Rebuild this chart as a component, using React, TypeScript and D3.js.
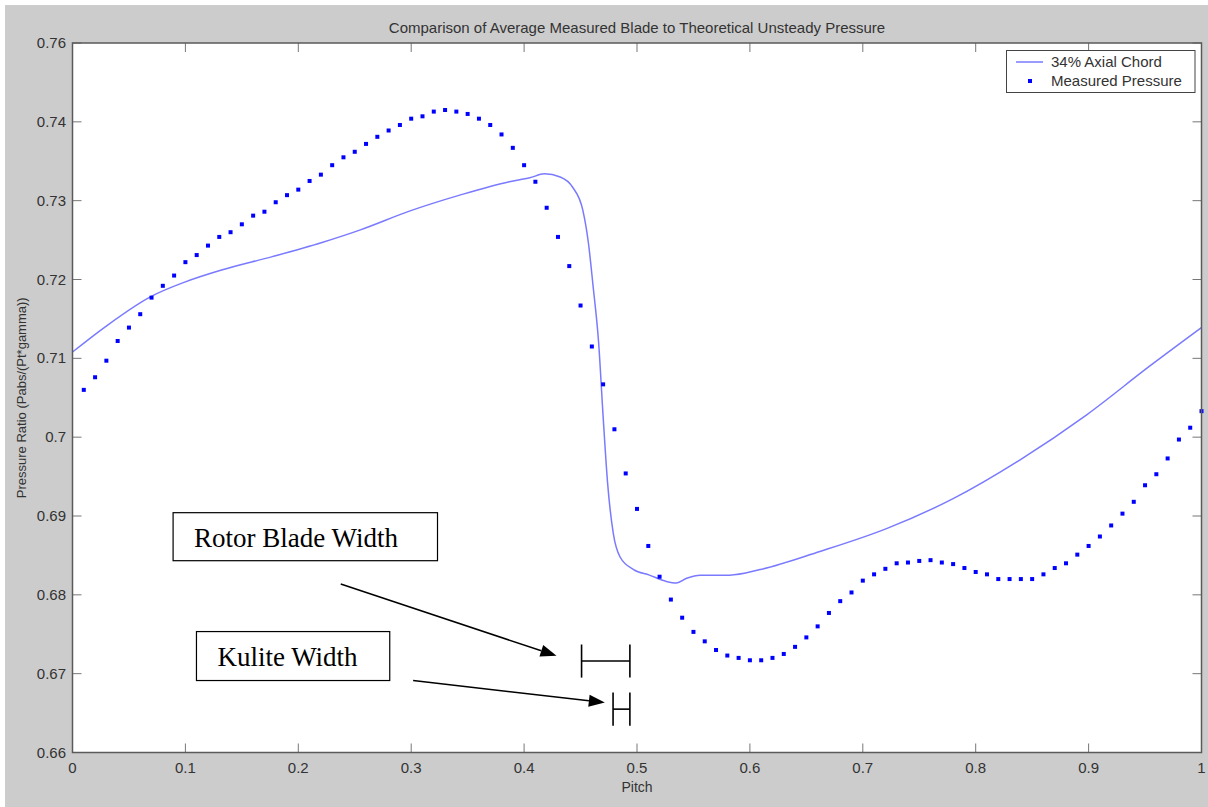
import React from "react";
import * as d3 from "d3";

const TITLE = "Comparison of Average Measured Blade to Theoretical Unsteady Pressure";
const X_LABEL = "Pitch";
const Y_LABEL = "Pressure Ratio (Pabs/(Pt*gamma))";

const xTickValues = [0, 0.1, 0.2, 0.3, 0.4, 0.5, 0.6, 0.7, 0.8, 0.9, 1];
const xTickLabels = ["0", "0.1", "0.2", "0.3", "0.4", "0.5", "0.6", "0.7", "0.8", "0.9", "1"];
const yTickValues = [0.66, 0.67, 0.68, 0.69, 0.7, 0.71, 0.72, 0.73, 0.74, 0.75];
const yTickLabels = ["0.66", "0.67", "0.68", "0.69", "0.7", "0.71", "0.72", "0.73", "0.74", "0.76"];

const measuredPitch = [
  0.01, 0.02, 0.03, 0.04, 0.05, 0.06, 0.07, 0.08, 0.09, 0.1,
  0.11, 0.12, 0.13, 0.14, 0.15, 0.16, 0.17, 0.18, 0.19, 0.2,
  0.21, 0.22, 0.23, 0.24, 0.25, 0.26, 0.27, 0.28, 0.29, 0.3,
  0.31, 0.32, 0.33, 0.34, 0.35, 0.36, 0.37, 0.38, 0.39, 0.4,
  0.41, 0.42, 0.43, 0.44, 0.45, 0.46, 0.47, 0.48, 0.49, 0.5,
  0.51, 0.52, 0.53, 0.54, 0.55, 0.56, 0.57, 0.58, 0.59, 0.6,
  0.61, 0.62, 0.63, 0.64, 0.65, 0.66, 0.67, 0.68, 0.69, 0.7,
  0.71, 0.72, 0.73, 0.74, 0.75, 0.76, 0.77, 0.78, 0.79, 0.8,
  0.81, 0.82, 0.83, 0.84, 0.85, 0.86, 0.87, 0.88, 0.89, 0.9,
  0.91, 0.92, 0.93, 0.94, 0.95, 0.96, 0.97, 0.98, 0.99, 1.0,
];
const measuredPressure = [
  0.7060, 0.7076, 0.7097, 0.7122, 0.7139, 0.7156, 0.7177, 0.7192, 0.7205, 0.7222,
  0.7231, 0.7243, 0.7254, 0.7260, 0.7270, 0.7281, 0.7286, 0.7298, 0.7307, 0.7314,
  0.7325, 0.7333, 0.7345, 0.7355, 0.7362, 0.7372, 0.7381, 0.7389, 0.7396, 0.7404,
  0.7407, 0.7413, 0.7415, 0.7413, 0.7410, 0.7404, 0.7396, 0.7384, 0.7367, 0.7345,
  0.7324, 0.7291, 0.7254, 0.7217, 0.7167, 0.7115, 0.7067, 0.7010, 0.6954, 0.6909,
  0.6862, 0.6823, 0.6794, 0.6771, 0.6753, 0.6741, 0.6730, 0.6723, 0.6720, 0.6717,
  0.6717, 0.6720, 0.6725, 0.6734, 0.6746, 0.6760, 0.6777, 0.6792, 0.6803, 0.6818,
  0.6826, 0.6833, 0.6840, 0.6841, 0.6843, 0.6844, 0.6841, 0.6839, 0.6834, 0.6829,
  0.6826, 0.6820, 0.6820, 0.6820, 0.6820, 0.6826, 0.6834, 0.6840, 0.6851, 0.6862,
  0.6874, 0.6888, 0.6903, 0.6918, 0.6939, 0.6953, 0.6973, 0.6997, 0.7012, 0.7033,
];

const chordPitch = [
  0, 0.029, 0.069, 0.1, 0.132, 0.177, 0.221, 0.255, 0.299, 0.343,
  0.387, 0.405, 0.418, 0.432, 0.443, 0.452, 0.457, 0.461, 0.466, 0.47,
  0.474, 0.479, 0.485, 0.497, 0.511, 0.526, 0.535, 0.544, 0.556, 0.582,
  0.609, 0.662, 0.721, 0.78, 0.839, 0.898, 0.954, 1.0,
];
const chordPressure = [
  0.7108, 0.7140, 0.7178, 0.7197, 0.7212, 0.7229, 0.7247, 0.7263, 0.7287, 0.7307,
  0.7324, 0.7329, 0.7334, 0.7330, 0.7317, 0.7288, 0.7246, 0.7193, 0.7120, 0.7026,
  0.6941, 0.6878, 0.6848, 0.6832, 0.6825, 0.6817, 0.6815, 0.6821, 0.6825, 0.6825,
  0.6832, 0.6855, 0.6884, 0.6922, 0.6971, 0.7028, 0.7090, 0.7139,
];

const legendLabels = ["34% Axial Chord", "Measured Pressure"];

// annotations in data units [pitch, pressure]
const rotorBox = { x0: 0.0891, x1: 0.3233, y0: 0.69042, y1: 0.68433, label: "Rotor Blade Width" };
const kuliteBox = { x0: 0.1098, x1: 0.281, y0: 0.67534, y1: 0.66913, label: "Kulite Width" };
const rotorArrow = { x0: 0.2376, y0: 0.68138, x1: 0.4287, y1: 0.67226 };
const kuliteArrow = { x0: 0.3017, y0: 0.66913, x1: 0.4715, y1: 0.66634 };
const rotorBracket = { x0: 0.4509, x1: 0.4937, y: 0.6716, h: 0.0021 };
const kuliteBracket = { x0: 0.4788, x1: 0.4937, y: 0.6655, h: 0.0021 };

const W = 1208;
const H = 807;
const L = 72.5, R = 1201.5, T = 43, B = 752.5;

export default function App() {
  const x = d3.scaleLinear().domain([0, 1]).range([L, R]);
  const y = d3.scaleLinear().domain([0.66, 0.75]).range([B, T]);

  const chordData = chordPitch.map((p, i) => [p, chordPressure[i]] as [number, number]);
  const linePath = d3
    .line<[number, number]>()
    .x((d) => x(d[0]))
    .y((d) => y(d[1]))
    .curve(d3.curveMonotoneX)(chordData) as string;

  const font = "'Liberation Sans', Arial, sans-serif";
  const tickLen = 9;
  const axisColor = "#5a5a5a";
  const tickColor = "#777";
  const textColor = "#333";
  const lineColor = "#7a7aff";
  const dotColor = "#0000ff";

  const arrow = (a: { x0: number; y0: number; x1: number; y1: number }, key: string) => {
    const X0 = x(a.x0), Y0 = y(a.y0), X1 = x(a.x1), Y1 = y(a.y1);
    const ang = Math.atan2(Y1 - Y0, X1 - X0);
    const len = 16, half = 6;
    const bx = X1 - len * Math.cos(ang), by = Y1 - len * Math.sin(ang);
    const px = -Math.sin(ang) * half, py = Math.cos(ang) * half;
    return (
      <g key={key}>
        <line x1={X0} y1={Y0} x2={bx} y2={by} stroke="#000" strokeWidth={1.5} />
        <polygon points={`${X1},${Y1} ${bx + px},${by + py} ${bx - px},${by - py}`} fill="#000" />
      </g>
    );
  };

  const bracket = (b: { x0: number; x1: number; y: number; h: number }, key: string) => (
    <g key={key} stroke="#000" strokeWidth={1.6}>
      <line x1={x(b.x0)} x2={x(b.x1)} y1={y(b.y)} y2={y(b.y)} />
      <line x1={x(b.x0)} x2={x(b.x0)} y1={y(b.y + b.h)} y2={y(b.y - b.h)} />
      <line x1={x(b.x1)} x2={x(b.x1)} y1={y(b.y + b.h)} y2={y(b.y - b.h)} />
    </g>
  );

  const box = (bx: { x0: number; x1: number; y0: number; y1: number; label: string }, key: string) => (
    <g key={key}>
      <rect
        x={x(bx.x0)}
        y={y(bx.y0)}
        width={x(bx.x1) - x(bx.x0)}
        height={y(bx.y1) - y(bx.y0)}
        fill="#fff"
        stroke="#000"
        strokeWidth={1.2}
      />
      <text
        x={x(bx.x0) + 21}
        y={(y(bx.y0) + y(bx.y1)) / 2 + 10}
        fontFamily="'Liberation Serif', 'Times New Roman', serif"
        fontSize={27}
        fill="#000"
      >
        {bx.label}
      </text>
    </g>
  );

  return (
    <svg
      width={W}
      height={H}
      style={{ position: "absolute", left: 0, top: 0, display: "block" }}
    >
      <rect x={0} y={0} width={W} height={H} fill="#fff" />
      <rect x={5} y={5} width={W - 5} height={H - 5} fill="#cccccc" />
      <rect x={L} y={T} width={R - L} height={B - T} fill="#fff" />

      {/* title & labels */}
      <text x={(L + R) / 2} y={33} textAnchor="middle" fontFamily={font} fontSize={15} fill={textColor}>
        {TITLE}
      </text>
      <text x={(L + R) / 2} y={792} textAnchor="middle" fontFamily={font} fontSize={14} fill={textColor}>
        {X_LABEL}
      </text>
      <text
        transform={`translate(26,${(T + B) / 2}) rotate(-90)`}
        textAnchor="middle"
        fontFamily={font}
        fontSize={13}
        fill={textColor}
      >
        {Y_LABEL}
      </text>

      {/* ticks */}
      {xTickValues.map((v, i) => (
        <g key={`xt${i}`}>
          <line x1={x(v)} x2={x(v)} y1={B} y2={B - tickLen} stroke={tickColor} />
          <line x1={x(v)} x2={x(v)} y1={T} y2={T + tickLen} stroke={tickColor} />
          <text x={x(v)} y={773} textAnchor="middle" fontFamily={font} fontSize={15} fill={textColor}>
            {xTickLabels[i]}
          </text>
        </g>
      ))}
      {yTickValues.map((v, i) => (
        <g key={`yt${i}`}>
          <line x1={L} x2={L + tickLen} y1={y(v)} y2={y(v)} stroke={tickColor} />
          <line x1={R} x2={R - tickLen} y1={y(v)} y2={y(v)} stroke={tickColor} />
          <text x={66} y={y(v) + 5} textAnchor="end" fontFamily={font} fontSize={15} fill={textColor}>
            {yTickLabels[i]}
          </text>
        </g>
      ))}

      {/* data */}
      <path d={linePath} fill="none" stroke={lineColor} strokeWidth={1.5} />
      {measuredPitch.map((p, i) => (
        <rect
          key={`m${i}`}
          x={x(p) - 2}
          y={y(measuredPressure[i]) - 2}
          width={4}
          height={4}
          fill={dotColor}
        />
      ))}

      {/* axes box */}
      <rect x={L} y={T} width={R - L} height={B - T} fill="none" stroke={axisColor} strokeWidth={1.5} />

      {/* legend */}
      <g>
        <rect x={1006.5} y={50.5} width={188.5} height={42} fill="#fff" stroke="#444" strokeWidth={1} />
        <line x1={1016} x2={1043} y1={62} y2={62} stroke={lineColor} strokeWidth={1.5} />
        <text x={1051} y={67} fontFamily={font} fontSize={15} fill={textColor}>
          {legendLabels[0]}
        </text>
        <rect x={1028} y={79} width={4} height={4} fill={dotColor} />
        <text x={1051} y={86} fontFamily={font} fontSize={15} fill={textColor}>
          {legendLabels[1]}
        </text>
      </g>

      {/* annotations */}
      {box(rotorBox, "rb")}
      {box(kuliteBox, "kb")}
      {arrow(rotorArrow, "ra")}
      {arrow(kuliteArrow, "ka")}
      {bracket(rotorBracket, "rbr")}
      {bracket(kuliteBracket, "kbr")}
    </svg>
  );
}
